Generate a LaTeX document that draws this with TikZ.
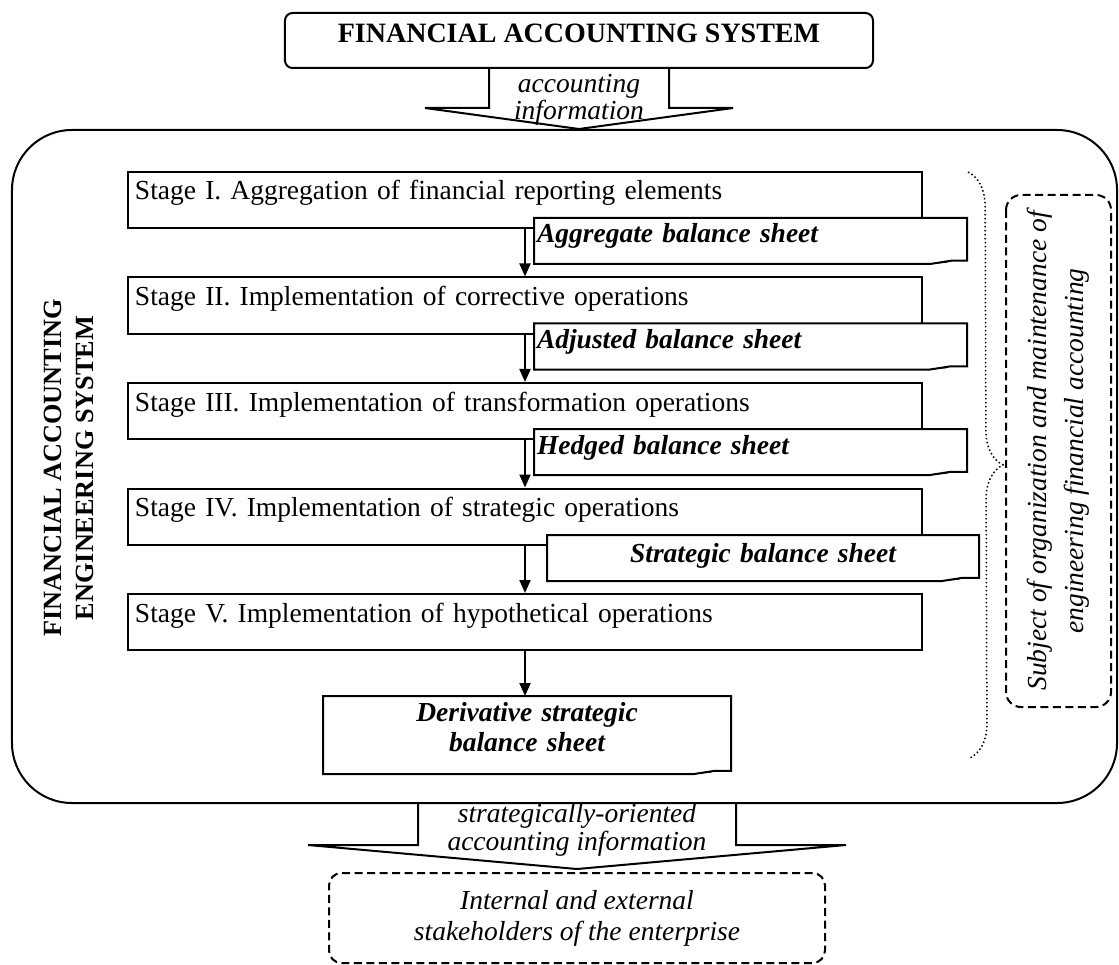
\documentclass[tikz,border=0pt]{standalone}
\usepackage{fontspec}
\setmainfont{Liberation Serif}
\usetikzlibrary{arrows.meta}
\usetikzlibrary{decorations.pathreplacing}

\newcommand{\sheetfold}[1]{%
  \draw (#1.south west) -- (#1.north west) -- (#1.north east)
    -- ([yshift=1.3pt]#1.south east) -- ([xshift=-6.4pt,yshift=1.3pt]#1.south east)
    -- ([xshift=-14.8pt]#1.south east) -- cycle;
  \fill ([xshift=-14.8pt]#1.south east) -- ([xshift=-6.4pt,yshift=1.3pt]#1.south east)
    -- ([xshift=-8.4pt,yshift=0.5pt]#1.south east) -- cycle;
}

\begin{document}
\begin{tikzpicture}[
  x=0.4pt, y=-0.4pt,
  line width=0.8pt,
  font=\fontsize{11}{13}\selectfont
]
\tikzset{
    stagebox/.style = {draw, rectangle, inner xsep=2.8pt, inner ysep=0pt, text width=312pt, align=left, text height=11.2pt, text depth=11.2pt},
    sheetbox/.style = {rectangle, fill=white, inner xsep=0.8pt, inner ysep=0pt, text width=170.8pt, align=left, text height=9.6pt, text depth=8pt, font=\fontsize{11}{12}\selectfont\bfseries\itshape},
    flowarrow/.style = {-{Triangle[length=5.2pt,width=4.4pt]}},
    blockarrow/.style = {line join=miter},
    dashbox/.style = {draw, dash pattern=on 3.2pt off 1.8pt, rounded corners=5pt, align=center}
}
\useasboundingbox (0,0) rectangle (1119,965);

\node[draw, rounded corners=3pt, minimum width=235.2pt, inner ysep=0pt, text height=11.8pt, text depth=10.2pt, font=\fontsize{11.2}{13}\selectfont\bfseries] (FAS) at (579,40.5) {FINANCIAL ACCOUNTING SYSTEM};
\draw[blockarrow] ([xshift=-36pt]FAS.south) -- ++(0,39) -- ++(-64,0) -- ++(154,21) -- ++(154,-21) -- ++(-64,0) -- ++(0,-39);
\node[align=center, font=\fontsize{11}{10.8}\selectfont\itshape] (AI) at (579,100) {accounting\\information};

\node[draw, rounded corners=24pt, minimum width=442pt, minimum height=269.2pt] (FAES) at (564.5,466.5) {};
\node[rotate=90, align=center, font=\fontsize{10.5}{12.8}\selectfont\bfseries] (FAESname) at (69,468) {FINANCIAL ACCOUNTING\\ENGINEERING SYSTEM};

\node[stagebox] (S1) at (525,200) {Stage I. Aggregation of financial reporting elements};
\node[stagebox] (S2) at (525,305.5) {Stage II. Implementation of corrective operations};
\node[stagebox] (S3) at (525,411) {Stage III. Implementation of transformation operations};
\node[stagebox] (S4) at (525,516.5) {Stage IV. Implementation of strategic operations};
\node[stagebox] (S5) at (525,622) {Stage V. Implementation of hypothetical operations};

\node[sheetbox] (D1) at (750.5,241) {Aggregate balance sheet};
\node[sheetbox] (D2) at (750.5,346.5) {Adjusted balance sheet};
\node[sheetbox] (D3) at (750.5,452) {Hedged balance sheet};
\node[sheetbox, text width=170.4pt, align=center, text height=10.4pt, text depth=7.2pt] (D4) at (763,558) {Strategic balance sheet};
\node[sheetbox, text width=160.8pt, align=center, text height=9.6pt, text depth=20.8pt] (D5) at (527,735) {Derivative strategic\\balance sheet};
\sheetfold{D1}
\sheetfold{D2}
\sheetfold{D3}
\sheetfold{D4}
\sheetfold{D5}

\draw[flowarrow] (S1) -- (S2);
\draw[flowarrow] (S2) -- (S3);
\draw[flowarrow] (S3) -- (S4);
\draw[flowarrow] (S4) -- (S5);
\draw[flowarrow] (S5) -- (S5 |- D5.north);

\coordinate (BT) at (968,172);
\coordinate (BB) at (970,758);
\draw[densely dotted, line width=0.6pt, decorate, decoration={brace, amplitude=13.6pt}] (BT) -- (BB);
\node[dashbox, rotate=90, minimum width=204.8pt, minimum height=42pt, rounded corners=6pt, font=\fontsize{11}{14.8}\selectfont\itshape] (SUBJ) at (1058.5,451) {Subject of organization and maintenance of\\engineering financial accounting};

\node[dashbox, minimum width=198.4pt, minimum height=36pt, font=\fontsize{11}{12.4}\selectfont\itshape] (ST) at (577,918) {Internal and external\\stakeholders of the enterprise};
\draw[blockarrow] ([xshift=-63.6pt]FAES.south -| ST.north) -- ++(0,41) -- ++(-110,0) -- ++(269,24) -- ++(269,-24) -- ++(-110,0) -- ++(0,-41);
\node[align=center, font=\fontsize{11}{10}\selectfont\itshape] (SOAI) at (577,830) {strategically-oriented\\accounting information};
\end{tikzpicture}
\end{document}
